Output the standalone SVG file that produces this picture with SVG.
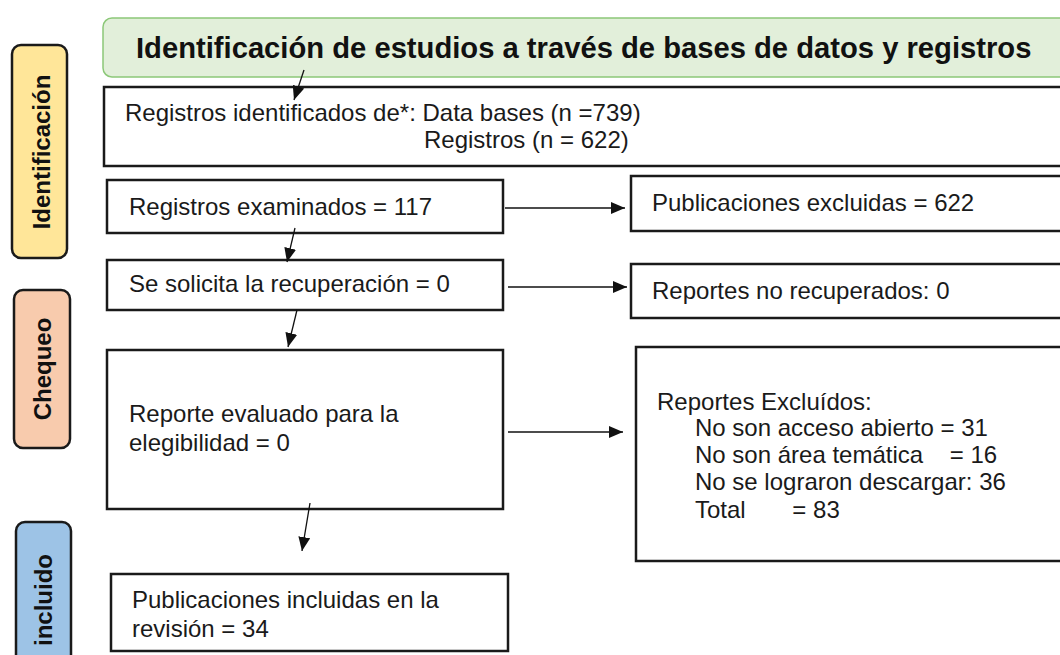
<svg xmlns="http://www.w3.org/2000/svg" width="1060" height="655" viewBox="0 0 1060 655">
<defs>
<marker id="ah" viewBox="0 0 14 12" refX="14" refY="6" markerWidth="14" markerHeight="12" markerUnits="userSpaceOnUse" orient="auto">
<path d="M0,0 L14,6 L0,12 Z" fill="#111"/>
</marker>
</defs>
<style>
.box{fill:#fff;stroke:#1a1a1a;stroke-width:2.5}
.t{font-family:"Liberation Sans",Arial,sans-serif;font-size:24px;fill:#1a1a1a}
.side{font-family:"Liberation Sans",Arial,sans-serif;font-size:24px;font-weight:bold;fill:#111}
.sbox{stroke:#1a1a1a;stroke-width:2.5}
.c{stroke:#111;stroke-width:1.3;fill:none;marker-end:url(#ah)}
</style>
<rect width="1060" height="655" fill="#fff"/>
<g id="title">
<rect x="103" y="18" width="970" height="59" rx="9" fill="#e2efda" stroke="#8cc878" stroke-width="1.5"/>
<text x="136" y="58" font-family="Liberation Sans,Arial,sans-serif" font-size="29.2" font-weight="bold" fill="#111">Identificación de estudios a través de bases de datos y registros</text>
</g>
<g id="lbl-identificacion">
<rect class="sbox" x="12" y="45" width="55" height="213" rx="9" fill="#ffe699"/>
<text class="side" transform="translate(50,152) rotate(-90)" text-anchor="middle">Identificación</text>
</g>
<g id="lbl-chequeo">
<rect class="sbox" x="14" y="290" width="56" height="158" rx="9" fill="#f8cbad"/>
<text class="side" transform="translate(51,369) rotate(-90)" text-anchor="middle">Chequeo</text>
</g>
<g id="lbl-incluido">
<rect class="sbox" x="16" y="522" width="55" height="150" rx="9" fill="#9dc3e6"/>
<text class="side" transform="translate(52,600) rotate(-90)" text-anchor="middle">incluido</text>
</g>
<g id="n-identificados">
<rect class="box" x="104" y="87" width="970" height="79"/>
<text class="t" x="125" y="121">Registros identificados de*: Data bases (n =739)</text>
<text class="t" x="424" y="148">Registros (n = 622)</text>
</g>
<g id="n-examinados">
<rect class="box" x="107" y="180" width="396" height="53"/>
<text class="t" x="129" y="215">Registros examinados = 117</text>
</g>
<g id="n-pub-excluidas">
<rect class="box" x="631" y="176" width="440" height="55"/>
<text class="t" x="652" y="211">Publicaciones excluidas = 622</text>
</g>
<g id="n-recuperacion">
<rect class="box" x="107" y="260" width="396" height="50"/>
<text class="t" x="129" y="292">Se solicita la recuperación = 0</text>
</g>
<g id="n-no-recuperados">
<rect class="box" x="631" y="264" width="440" height="54"/>
<text class="t" x="652" y="299">Reportes no recuperados: 0</text>
</g>
<g id="n-evaluado">
<rect class="box" x="107" y="350" width="396" height="159"/>
<text class="t" x="129" y="422">Reporte evaluado para la</text>
<text class="t" x="129" y="451">elegibilidad = 0</text>
</g>
<g id="n-rep-excluidos">
<rect class="box" x="636" y="347" width="435" height="214"/>
<text class="t" x="657" y="410">Reportes Excluídos:</text>
<text class="t" x="695" y="436">No son acceso abierto = 31</text>
<text class="t" x="695" y="463" xml:space="preserve">No son área temática    = 16</text>
<text class="t" x="695" y="490">No se lograron descargar: 36</text>
<text class="t" x="695" y="518" xml:space="preserve">Total       = 83</text>
</g>
<g id="n-incluidas">
<rect class="box" x="111" y="574" width="397" height="77"/>
<text class="t" x="132" y="608">Publicaciones incluidas en la</text>
<text class="t" x="132" y="637">revisión = 34</text>
</g>
<g id="connectors">
<line class="c" x1="304" y1="70" x2="294" y2="100"/>
<line class="c" x1="295" y1="228" x2="287" y2="262"/>
<line class="c" x1="297" y1="310" x2="288" y2="347"/>
<line class="c" x1="310" y1="503" x2="302" y2="551"/>
<line class="c" x1="505" y1="208" x2="625" y2="208"/>
<line class="c" x1="508" y1="287" x2="627" y2="287"/>
<line class="c" x1="508" y1="432" x2="623" y2="432"/>
</g>
</svg>
